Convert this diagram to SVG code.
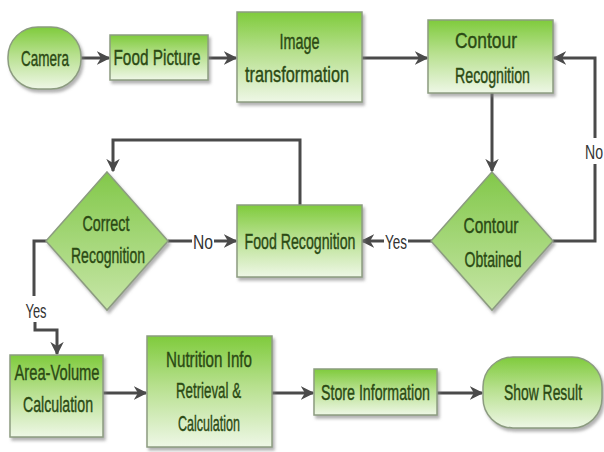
<svg xmlns="http://www.w3.org/2000/svg" width="604" height="452" viewBox="0 0 604 452">
<defs>
<linearGradient id="g" x1="0" y1="0" x2="0" y2="1">
<stop offset="0" stop-color="#7fcb3c"/>
<stop offset="0.45" stop-color="#b7e08e"/>
<stop offset="1" stop-color="#eef7e6"/>
</linearGradient>
<linearGradient id="gd" x1="0" y1="0" x2="0" y2="1">
<stop offset="0" stop-color="#82c84a"/>
<stop offset="1" stop-color="#c7e6a8"/>
</linearGradient>
<filter id="sh" x="-10%" y="-10%" width="130%" height="130%">
<feDropShadow dx="2" dy="3" stdDeviation="1.5" flood-color="#808080" flood-opacity="0.6"/>
</filter>
<marker id="ah" viewBox="0 0 10 10" refX="9" refY="5" markerWidth="4.5" markerHeight="4.5" orient="auto" markerUnits="strokeWidth">
<path d="M0,0 L10,5 L0,10 L3,5 Z" fill="#4a4a4a"/>
</marker>
</defs>
<style>
.n{fill:url(#g);stroke:#8c9c80;stroke-width:1.5;filter:url(#sh)}
.d{fill:url(#gd);stroke:#8c9c80;stroke-width:1.5;filter:url(#sh)}
.t{font-family:"Liberation Sans","DejaVu Sans",sans-serif;font-size:22px;fill:#2b4a14;text-anchor:middle;stroke:#2b4a14;stroke-width:0.4}
.c{fill:none;stroke:#4a4a4a;stroke-width:3}
.a{marker-end:url(#ah)}
.l{font-family:"Liberation Sans","DejaVu Sans",sans-serif;font-size:20px;fill:#333;text-anchor:middle}
</style>
<rect width="604" height="452" fill="#fff"/>
<g id="connectors">
<line class="c a" x1="81" y1="58" x2="109" y2="58"/>
<line class="c a" x1="208" y1="58" x2="236" y2="58"/>
<line class="c a" x1="362" y1="58" x2="427" y2="58"/>
<line class="c a" x1="492" y1="93" x2="492" y2="171"/>
<polyline class="c a" points="553,241 595,241 595,58 554,58"/>
<rect x="584" y="138" width="20" height="26" fill="#fff"/>
<text class="l" x="594" y="159" textLength="18" lengthAdjust="spacingAndGlyphs">No</text>
<line class="c a" x1="432" y1="241" x2="362" y2="241"/>
<rect x="384" y="228" width="24" height="26" fill="#fff"/>
<text class="l" x="396" y="249" textLength="22" lengthAdjust="spacingAndGlyphs">Yes</text>
<polyline class="c a" points="300,205 300,140 113,140 113,171"/>
<line class="c a" x1="168" y1="241" x2="236" y2="241"/>
<rect x="192" y="228" width="22" height="26" fill="#fff"/>
<text class="l" x="203" y="249" textLength="20" lengthAdjust="spacingAndGlyphs">No</text>
<polyline class="c" points="47,241 34,241 34,296"/>
<text class="l" x="36" y="318" textLength="21" lengthAdjust="spacingAndGlyphs">Yes</text>
<polyline class="c a" points="35,322 35,330 57,330 57,354"/>
<line class="c a" x1="103" y1="393" x2="146" y2="393"/>
<line class="c a" x1="272" y1="393" x2="313" y2="393"/>
<line class="c a" x1="437" y1="393" x2="482" y2="393"/>
</g>
<g id="camera">
<rect class="n" x="8" y="27" width="73" height="62" rx="30" ry="30"/>
<text class="t" x="45" y="66" textLength="48" lengthAdjust="spacingAndGlyphs">Camera</text>
</g>
<g id="food-picture">
<rect class="n" x="110" y="35" width="98" height="45"/>
<text class="t" x="157" y="65" textLength="87" lengthAdjust="spacingAndGlyphs">Food Picture</text>
</g>
<g id="image-transformation">
<rect class="n" x="237" y="12" width="125" height="90"/>
<text class="t" x="299.5" y="49" textLength="40" lengthAdjust="spacingAndGlyphs">Image</text>
<text class="t" x="297" y="82" textLength="104" lengthAdjust="spacingAndGlyphs">transformation</text>
</g>
<g id="contour-recognition">
<rect class="n" x="428" y="20" width="125" height="73"/>
<text class="t" x="486" y="48" textLength="62" lengthAdjust="spacingAndGlyphs">Contour</text>
<text class="t" x="492.5" y="83" textLength="75" lengthAdjust="spacingAndGlyphs">Recognition</text>
</g>
<g id="contour-obtained">
<polygon class="d" points="492,172 553,241 492,310 431,241"/>
<text class="t" x="491" y="233" textLength="55" lengthAdjust="spacingAndGlyphs">Contour</text>
<text class="t" x="493" y="267" textLength="57" lengthAdjust="spacingAndGlyphs">Obtained</text>
</g>
<g id="food-recognition">
<rect class="n" x="237" y="205" width="125" height="72"/>
<text class="t" x="300" y="249" textLength="111" lengthAdjust="spacingAndGlyphs">Food Recognition</text>
</g>
<g id="correct-recognition">
<polygon class="d" points="107,172 168,241 107,310 46,241"/>
<text class="t" x="106" y="231" textLength="47" lengthAdjust="spacingAndGlyphs">Correct</text>
<text class="t" x="108" y="263" textLength="74" lengthAdjust="spacingAndGlyphs">Recognition</text>
</g>
<g id="area-volume">
<rect class="n" x="10" y="355" width="93" height="82"/>
<text class="t" x="57" y="380" textLength="85" lengthAdjust="spacingAndGlyphs">Area-Volume</text>
<text class="t" x="58" y="412" textLength="70" lengthAdjust="spacingAndGlyphs">Calculation</text>
</g>
<g id="nutrition-info">
<rect class="n" x="147" y="336" width="125" height="111"/>
<text class="t" x="209" y="367" textLength="86" lengthAdjust="spacingAndGlyphs">Nutrition Info</text>
<text class="t" x="208.5" y="398" textLength="65" lengthAdjust="spacingAndGlyphs">Retrieval &amp;</text>
<text class="t" x="209" y="431" textLength="62" lengthAdjust="spacingAndGlyphs">Calculation</text>
</g>
<g id="store-information">
<rect class="n" x="314" y="369" width="123" height="46"/>
<text class="t" x="375.5" y="400" textLength="109" lengthAdjust="spacingAndGlyphs">Store Information</text>
</g>
<g id="show-result">
<rect class="n" x="483" y="357" width="119" height="71" rx="30" ry="30"/>
<text class="t" x="543" y="400" textLength="78" lengthAdjust="spacingAndGlyphs">Show Result</text>
</g>
</svg>
